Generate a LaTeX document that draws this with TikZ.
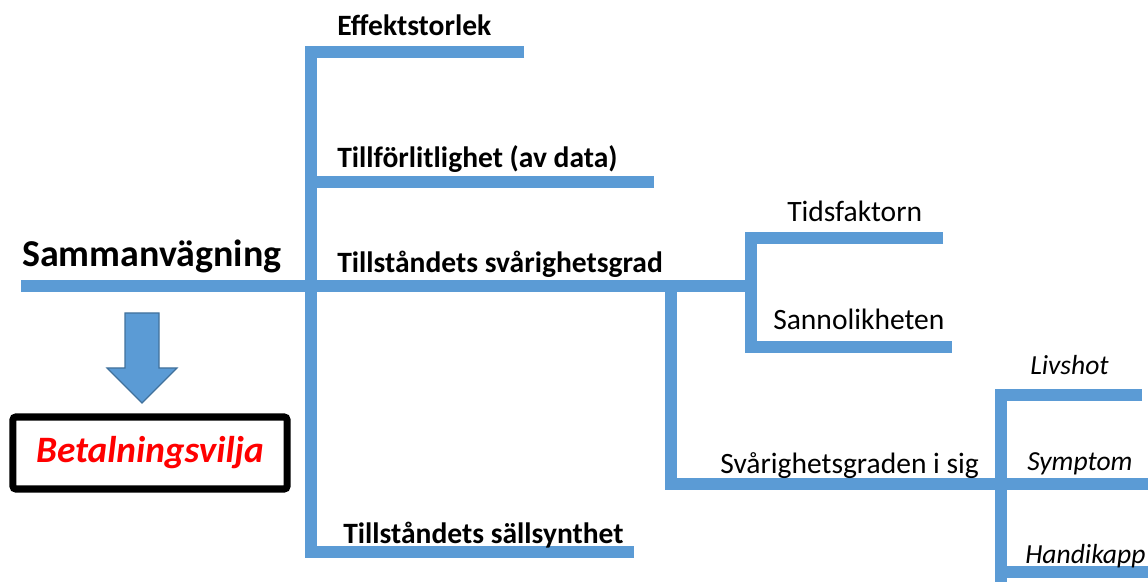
\documentclass[tikz,border=0pt]{standalone}
\usepackage{fontspec}
\setmainfont{Carlito}
\usepackage{xcolor}
\definecolor{branchblue}{HTML}{5B9BD5}
\definecolor{arrowedge}{HTML}{41719C}
\tikzset{
  branch/.style={draw=branchblue, line width=8.2pt, line join=miter},
  mainlbl/.style={font=\bfseries\fontsize{21}{24}\selectfont, anchor=base west, inner sep=0pt},
  sublbl/.style={font=\fontsize{21}{24}\selectfont, anchor=base west, inner sep=0pt},
  leaflbl/.style={font=\itshape\fontsize{19.6}{23}\selectfont, anchor=base west, inner sep=0pt},
}

\begin{document}
\begin{tikzpicture}[x=0.025cm, y=-0.025cm]
  \useasboundingbox (0,0) rectangle (1148,582);

  % junctions of the main trunk
  \coordinate (mainL) at (21,286);
  \coordinate (mainR) at (751,286);
  \coordinate (effR) at (524,52);
  \coordinate (trunkT) at (311,52);
  \coordinate (trunkB) at (311,552);
  \coordinate (sallR) at (634,552);
  \coordinate (tillL) at (311,182);
  \coordinate (tillR) at (654,182);
  % severity branch
  \coordinate (gradT) at (671,286);
  \coordinate (gradB) at (671,484);
  \coordinate (sigR) at (1148,484);
  \coordinate (tidR) at (943,238);
  \coordinate (tidL) at (751,238);
  \coordinate (sanL) at (751,347);
  \coordinate (sanR) at (952,347);
  \coordinate (livR) at (1142,395);
  \coordinate (livL) at (1001,395);
  \coordinate (hanB) at (1001,582);
  \coordinate (hanL) at (1001,572);
  \coordinate (hanR) at (1148,572);

  \draw[branch] (mainL) -- (mainR);
  \draw[branch] (effR) -- (trunkT) -- (trunkB) -- (sallR);
  \draw[branch] (tillL) -- (tillR);
  \draw[branch] (gradT) -- (gradB) -- (sigR);
  \draw[branch] (tidR) -- (tidL) -- (sanL) -- (sanR);
  \draw[branch] (livR) -- (livL) -- (hanB);
  \draw[branch] (hanL) -- (hanR);

  \node[anchor=base west, inner sep=0pt, font=\bfseries\fontsize{27}{31}\selectfont] (samman) at (22,267) {Sammanvägning};
  \node[mainlbl] (eff) at (337,36) {Effektstorlek};
  \node[mainlbl] (till) at (337,168) {Tillförlitlighet (av data)};
  \node[mainlbl] (grad) at (337,273) {Tillståndets svårighetsgrad};
  \node[mainlbl] (sall) at (343,543) {Tillståndets sällsynthet};
  \node[sublbl] (tid) at (787,222) {Tidsfaktorn};
  \node[sublbl] (san) at (773,330) {Sannolikheten};
  \node[sublbl] (sig) at (720,473) {Svårighetsgraden i sig};
  \node[leaflbl] (liv) at (1030,374) {Livshot};
  \node[leaflbl] (sym) at (1027,470) {Symptom};
  \node[leaflbl] (han) at (1025,563) {Handikapp};

  \node[draw, line width=5pt, rounded corners=2pt, minimum width=6.85cm, minimum height=1.8cm,
        text=red, font=\bfseries\itshape\fontsize{26.5}{30}\selectfont] (wtp) at (150,453) {Betalningsvilja};
  \draw[fill=branchblue, draw=arrowedge, line width=0.8pt]
    (125,313) -- (159,313) -- (159,368) -- (177,368) -- (142,403) -- (107,368) -- (125,368) -- cycle;
\end{tikzpicture}
\end{document}
